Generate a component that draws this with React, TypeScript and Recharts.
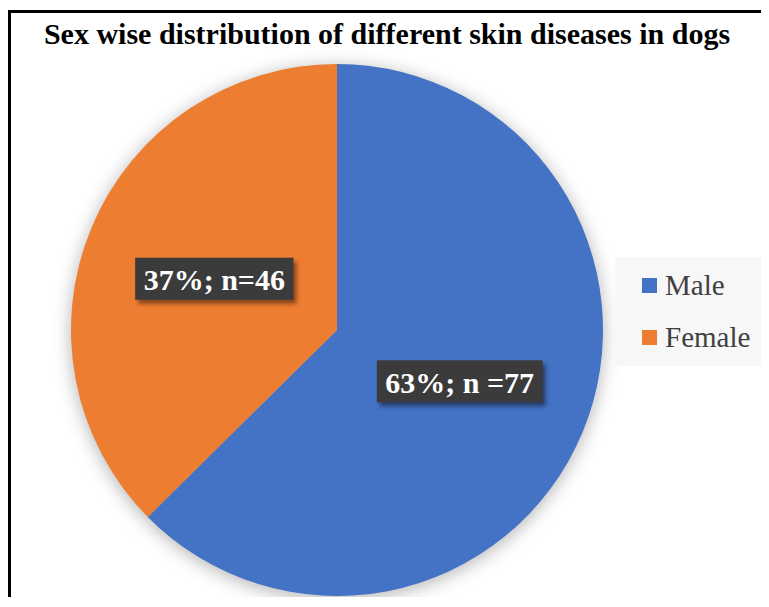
import { useLayoutEffect, useRef, useState } from 'react';
import { PieChart, Pie, Cell, Legend } from 'recharts';

const categories = ['Male', 'Female'];
const counts = [77, 46];
const sliceColors = ['#4472C4', '#ED7D31'];
// the two labels were typed with different spacing around "n"
const countSeparators = ['; n =', '; n='];

const data = categories.map((name, i) => ({ name, value: counts[i] }));

const RADIAN = Math.PI / 180;
const serif = '"Liberation Serif", "Times New Roman", serif';

function LabelBox({ x, y, text }: { x: number; y: number; text: string }) {
  const ref = useRef<SVGTextElement>(null);
  const [w, setW] = useState(140);
  useLayoutEffect(() => {
    if (ref.current) setW(ref.current.getBBox().width);
  }, [text]);
  const bw = w + 17;
  const bh = 42;
  return (
    <g>
      <rect
        x={x - bw / 2}
        y={y - bh / 2}
        width={bw}
        height={bh}
        fill="#3b3b3b"
        style={{ filter: 'drop-shadow(3px 4px 2px rgba(0,0,0,0.45))' }}
      />
      <text
        ref={ref}
        x={x}
        y={y + 1}
        textAnchor="middle"
        dominantBaseline="central"
        fill="#ffffff"
        fontFamily={serif}
        fontWeight="bold"
        fontSize={30}
      >
        {text}
      </text>
    </g>
  );
}

const renderLabel = (props: any) => {
  const { cx, cy, midAngle, outerRadius, percent, value, index } = props;
  const r = outerRadius * 0.5;
  const x = cx + r * Math.cos(-midAngle * RADIAN);
  const y = cy + r * Math.sin(-midAngle * RADIAN);
  const text = `${Math.round(percent * 100)}%${countSeparators[index]}${value}`;
  return <LabelBox key={`lbl-${index}`} x={x} y={y} text={text} />;
};

const renderLegend = () => (
  <div style={{ background: '#f7f7f7', width: 148, height: 109, boxSizing: 'border-box', paddingTop: 2, paddingLeft: 27 }}>
    {categories.map((name, i) => (
      <div key={name} style={{ display: 'flex', alignItems: 'center', height: 52 }}>
        <span style={{ width: 15, height: 15, background: sliceColors[i], display: 'inline-block', marginRight: 8 }} />
        <span style={{ fontFamily: serif, fontSize: 29, color: '#404040', lineHeight: 1 }}>{name}</span>
      </div>
    ))}
  </div>
);

export default function App() {
  return (
    <div
      style={{
        position: 'relative',
        marginTop: 2,
        width: 752,
        height: 584,
        borderTop: '3px solid #000',
        borderLeft: '3px solid #000',
        borderRight: '3px solid #000',
        background: '#fff'
      }}
    >
      <style>{`html,body{overflow:hidden} .recharts-pie{filter:drop-shadow(0px 3px 9px rgba(0,0,0,0.3))}`}</style>
      <div
        style={{
          position: 'absolute',
          top: 4,
          left: 0,
          width: 752,
          textAlign: 'center',
          fontFamily: serif,
          fontWeight: 'bold',
          fontSize: 30,
          color: '#000',
          zIndex: 1
        }}
      >
        Sex wise distribution of different skin diseases in dogs
      </div>
      <PieChart width={752} height={584} margin={{ top: 0, right: 0, bottom: 0, left: 0 }}>
        <Pie
          data={data}
          dataKey="value"
          nameKey="name"
          cx={326}
          cy={317}
          outerRadius={266}
          startAngle={90}
          endAngle={-270}
          stroke="none"
          labelLine={false}
          label={renderLabel}
          isAnimationActive={false}
        >
          {data.map((d, i) => (
            <Cell key={d.name} fill={sliceColors[i]} />
          ))}
        </Pie>
        <Legend
          content={renderLegend}
          wrapperStyle={{ left: 604, top: 244, width: 148, height: 109 }}
        />
      </PieChart>
    </div>
  );
}
